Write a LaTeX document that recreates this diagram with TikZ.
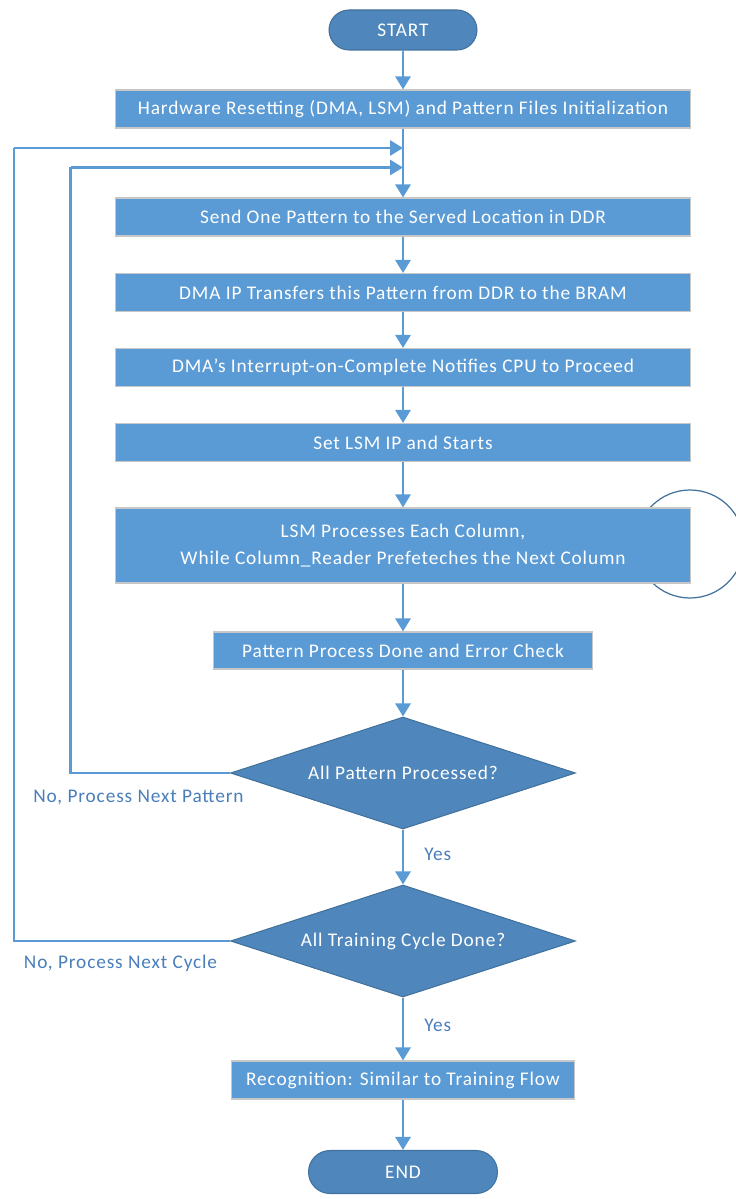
\documentclass[tikz,border=0pt]{standalone}
\usepackage{fontspec}
\setmainfont[LetterSpace=4.5]{Carlito}
\usetikzlibrary{shapes.geometric, arrows.meta}

\definecolor{boxblue}{RGB}{91,155,213}
\definecolor{darkblue}{RGB}{79,135,188}
\definecolor{edgeblue}{RGB}{65,113,156}
\definecolor{labelblue}{RGB}{74,126,187}

\begin{document}
\begin{tikzpicture}[
    x=0.02cm, y=-0.02cm,
    font=\fontsize{11}{13}\selectfont,
    process/.style={rectangle, draw=black!22, line width=0.6pt, fill=boxblue, text=white, minimum width=11.52cm, minimum height=0.76cm, align=center, inner sep=0pt},
    terminal/.style={rectangle, rounded corners=0.4cm, draw=edgeblue, line width=0.6pt, fill=darkblue, text=white, minimum height=0.8cm, inner sep=0pt},
    decision/.style={diamond, aspect=3.08, draw=edgeblue, line width=0.6pt, fill=darkblue, text=white, minimum width=6.9cm, minimum height=2.24cm, inner sep=0pt},
    flow/.style={draw=boxblue, line width=1.6pt, -{Triangle[length=0.26cm, width=0.3cm]}},
    loop/.style={draw=boxblue, line width=1.6pt},
    note/.style={text=labelblue}
]
\useasboundingbox (0,0) rectangle (735,1199);

% Ring behind the LSM step
\draw[edgeblue, line width=0.7pt] (690,544) circle (54);

% Terminals
\node[terminal, minimum width=2.96cm] (start) at (403,30) {START};
\node[terminal, minimum width=3.78cm, minimum height=0.86cm, rounded corners=0.43cm] (stop) at (403,1172) {END};

% Process steps
\node[process] (init) at (403,109) {Hardware Resetting (DMA, LSM) and Pattern Files Initialization};
\node[process] (send) at (403,217) {Send One Pattern to the Served Location in DDR};
\node[process] (dma) at (403,292.5) {DMA IP Transfers this Pattern from DDR to the BRAM};
\node[process] (irq) at (403,367.5) {DMA's Interrupt-on-Complete Notifies CPU to Proceed};
\node[process] (lsmset) at (403,442.5) {Set LSM IP and Starts};
\node[process, minimum height=1.5cm] (lsmrun) at (403,545.5) {LSM Processes Each Column,\\[2pt] While Column\_Reader Prefeteches the Next Column};
\node[process, minimum width=7.6cm, minimum height=0.74cm] (check) at (403,650.5) {Pattern Process Done and Error Check};
\node[process, minimum width=6.86cm] (recog) at (403,1080) {Recognition: Similar to Training Flow};

% Decisions
\node[decision] (qpat) at (403,773) {All Pattern Processed?};
\node[decision] (qcyc) at (403,941) {All Training Cycle Done?};

% Loop-back points
\coordinate (outerL) at (14,148);
\coordinate (outerIn) at (403,148);
\coordinate (innerL) at (70.5,167.5);
\coordinate (innerIn) at (403,167.5);

% Arrows
\draw[flow] (start) -- (init);
\draw[flow] (init) -- (send);
\draw[flow] (send) -- (dma);
\draw[flow] (dma) -- (irq);
\draw[flow] (irq) -- (lsmset);
\draw[flow] (lsmset) -- (lsmrun);
\draw[flow] (lsmrun) -- (check);
\draw[flow] (check) -- (qpat);
\draw[flow] (qpat) -- node[note, right=8pt, pos=0.45] {Yes} (qcyc);
\draw[flow] (qcyc) -- node[note, right=8pt, pos=0.45] {Yes} (recog);
\draw[flow] (recog) -- (stop);

% Loops back to the top
\draw[loop] (qpat.west) -| (innerL);
\draw[flow] (innerL) -- (innerIn);
\draw[loop] (qcyc.west) -| (outerL);
\draw[flow] (outerL) -- (outerIn);

\node[note] (nopat) at (138.5,798) {No, Process Next Pattern};
\node[note] (nocyc) at (120.5,963) {No, Process Next Cycle};

\end{tikzpicture}
\end{document}
